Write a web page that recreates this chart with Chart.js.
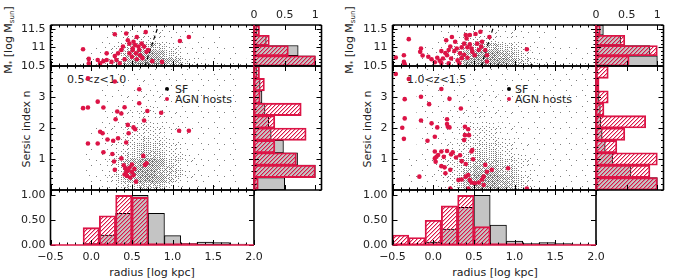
<!DOCTYPE html>
<html>
<head>
<meta charset="utf-8">
<script src="https://cdn.jsdelivr.net/npm/chart.js@4.4.1/dist/chart.umd.min.js"></script>
<style>
  body { margin: 0; width: 675px; height: 280px; position: relative; overflow: hidden; background: #fff; font-family: 'DejaVu Sans', sans-serif; color: #222; }
  canvas { position: absolute; left: 0; top: 0; }
  .t { position: absolute; font-size: 11px; line-height: 1; white-space: nowrap; transform: translateY(-50%); }
  .c { position: absolute; font-size: 11px; line-height: 1; white-space: nowrap; transform: translate(-50%, -50%); }
  .r { position: absolute; font-size: 11px; line-height: 1; white-space: nowrap; transform: translate(-50%, -50%) rotate(-90deg); }
  .r sub { font-size: 7px; vertical-align: -2px; }
  .dot { position: absolute; width: 4px; height: 4px; border-radius: 50%; transform: translate(-50%, -50%); }
</style>
</head>
<body>
<!-- left panel text -->
<div class="r" style="left:9px;top:40px">M<sub>*</sub> [log M<sub>sun</sub>]</div>
<div class="r" style="left:26px;top:129px">Sersic index n</div>
<div class="c" style="left:152px;top:272px">radius [log kpc]</div>
<div class="t" style="left:67px;top:79px">0.5&lt;z&lt;1.0</div>
<span class="dot" style="left:167px;top:89px;background:#000"></span>
<div class="t" style="left:175px;top:89px">SF</div>
<span class="dot" style="left:167px;top:99px;background:#dc1446"></span>
<div class="t" style="left:175px;top:99px">AGN hosts</div>
<!-- right panel text -->
<div class="r" style="left:350px;top:40px">M<sub>*</sub> [log M<sub>sun</sub>]</div>
<div class="r" style="left:367px;top:129px">Sersic index n</div>
<div class="c" style="left:495px;top:272px">radius [log kpc]</div>
<div class="t" style="left:407px;top:79px">1.0&lt;z&lt;1.5</div>
<span class="dot" style="left:509px;top:89px;background:#000"></span>
<div class="t" style="left:515px;top:89px">SF</div>
<span class="dot" style="left:509px;top:99px;background:#dc1446"></span>
<div class="t" style="left:515px;top:99px">AGN hosts</div>

<script>
// ── Tick values and labels ─────────────────────────────────────────────────
const radiusTicks = [-0.5, 0, 0.5, 1, 1.5, 2]
const radiusLabels = ['−0.5', '0.0', '0.5', '1.0', '1.5', '2.0']
const sersicTicks = [1, 2, 3]
const sersicLabels = ['1', '2', '3']
const massTicks = [10.5, 11, 11.5]
const massLabels = ['10.5', '11', '11.5']
const fracTicks = [0, 0.5, 1]
const fracLabels = ['0.00', '0.50', '1.00']
const sideLabels = ['0', '0.5', '1']

// ── Histogram bins (centres) ───────────────────────────────────────────────
const radiusBins = [-0.4, -0.2, 0, 0.2, 0.4, 0.6, 0.8, 1.0, 1.2, 1.4, 1.6, 1.8]
const massBins = [10.6375, 10.9125, 11.1875, 11.4625]
const sersicBins = [0.2, 0.6, 1.0, 1.4, 1.8, 2.2, 2.6, 3.0, 3.4, 3.8]

// 0.5 < z < 1.0
const sfRadiusL = [0, 0, 0.03, 0.2, 0.64, 1.0, 0.64, 0.19, 0.03, 0.06, 0.05, 0.02]
const agnRadiusL = [0, 0, 0.35, 0.59, 1.0, 0.96, 0.03, 0.03, 0.03, 0, 0, 0]
const sfMassL = [1.0, 0.72, 0.2, 0.05]
const agnMassL = [1.0, 0.56, 0.25, 0.09]
const sfSersicL = [0.5, 1.0, 0.71, 0.48, 0.28, 0.24, 0.18, 0.13, 0.1, 0.05]
const agnSersicL = [0.07, 1.0, 0.69, 0.34, 0.85, 0.34, 0.77, 0.1, 0.17, 0.09]

// 1.0 < z < 1.5
const sfRadiusR = [0, 0, 0.06, 0.32, 0.76, 1.0, 0.4, 0.08, 0.03, 0.05, 0.03, 0.02]
const agnRadiusR = [0.2, 0.15, 0.5, 0.79, 1.0, 0.37, 0.03, 0.03, 0.02, 0, 0, 0]
const sfMassR = [1.0, 0.88, 0.4, 0.12]
const agnMassR = [0.54, 1.0, 0.47, 0.07]
const sfSersicR = [1.0, 0.57, 0.27, 0.15, 0.1, 0.08, 0.07, 0.05, 0.03, 0.02]
const agnSersicR = [1.0, 0.88, 1.0, 0.34, 0.47, 0.81, 0.13, 0.2, 0.05, 0.2]

// ── AGN hosts [radius, value] ──────────────────────────────────────────────
const agnTopL = [[-0.1,10.95],[-0.03,10.69],[-0.03,10.57],[0.08,10.66],[0.11,10.57],[0.15,10.63],[0.19,10.66],[0.25,10.61],[0.29,11.35],[0.31,10.66],[0.33,10.84],[0.37,10.93],[0.39,11.02],[0.41,10.68],[0.43,11.37],[0.45,11.19],[0.47,10.84],[0.47,11.1],[0.5,10.75],[0.51,10.93],[0.51,10.97],[0.52,11.15],[0.54,11.06],[0.55,10.84],[0.56,11.28],[0.56,10.68],[0.58,11.02],[0.59,10.93],[0.6,10.79],[0.62,11.1],[0.63,10.71],[0.65,11.02],[0.67,11.41],[0.68,10.88],[0.7,10.93],[0.75,10.63],[0.87,10.61],[1.09,11.17],[1.2,11.28],[0.19,10.84],[0.29,10.77],[0.35,10.57]]
const agnMainL = [[-0.04,3.6],[0.29,3.5],[0.59,3.25],[0.08,2.85],[0.59,2.8],[-0.1,2.64],[-0.04,2.66],[0.15,2.66],[0.41,2.67],[0.32,2.53],[0.37,2.47],[0.69,2.55],[0.86,2.49],[0.3,2.28],[0.65,2.24],[0.45,2.1],[0.52,2.02],[0.54,1.96],[0.11,1.88],[0.14,1.83],[0.46,1.83],[1.08,1.91],[1.2,1.91],[0.2,1.63],[0.27,1.59],[0.33,1.67],[0.43,1.53],[-0.04,1.5],[0.08,1.5],[0.15,1.22],[0.26,1.16],[0.37,1.02],[0.64,1.1],[0.28,0.92],[0.29,0.65],[0.66,0.81],[0.68,0.86],[0.55,0.27],[0.4,0.8],[0.42,0.7],[0.45,0.62],[0.41,0.5],[0.44,0.45],[0.47,0.72],[0.5,0.58],[0.52,0.48],[0.48,0.4],[0.5,0.82],[0.43,0.58],[0.53,0.68]]
const agnTopR = [[-0.46,10.73],[-0.36,10.79],[-0.36,10.61],[-0.35,10.55],[-0.3,11.22],[-0.15,10.97],[-0.16,10.88],[-0.13,10.78],[-0.06,10.75],[-0.02,10.68],[0.02,10.6],[0.05,10.72],[0.08,10.64],[0.1,10.58],[0.12,10.7],[0.17,10.79],[0.19,10.93],[0.21,11.02],[0.16,11.19],[0.23,11.28],[0.27,11.15],[0.29,10.97],[0.33,10.84],[0.35,10.71],[0.38,11.1],[0.4,11.33],[0.41,11.24],[0.45,11.33],[0.47,10.97],[0.48,10.88],[0.51,10.79],[0.54,11.1],[0.58,11.42],[0.59,11.02],[0.6,11.15],[0.64,10.93],[0.66,10.79],[0.69,11.28],[0.19,10.57],[0.32,10.57],[0.66,10.62],[1.15,10.95],[0.1,10.9],[0.15,10.85],[0.22,10.7],[0.3,10.65],[0.38,10.8],[0.42,10.72],[0.42,11.0],[0.56,10.93],[0.52,11.36],[0.26,10.9],[0.45,11.08],[0.35,11.0]]
const agnMainR = [[-0.46,3.74],[-0.3,3.58],[0.1,3.26],[-0.15,3.01],[-0.35,2.93],[0.2,2.94],[-0.05,2.77],[0.34,2.63],[-0.35,2.31],[-0.15,2.24],[-0.02,2.15],[0.05,2.02],[0.17,2.28],[0.18,2.04],[0.2,2.02],[0.17,2.13],[-0.38,2.01],[0.39,2.04],[0.43,1.96],[0.39,1.77],[0.44,1.77],[0.02,1.72],[-0.36,1.65],[-0.07,1.59],[0.38,1.61],[0.48,1.29],[-0.17,0.43],[0.02,1.24],[0.04,1.07],[0.02,1.02],[0.06,1.13],[0.1,1.24],[0.13,1.07],[0.17,1.26],[0.22,1.15],[0.24,1.22],[0.28,1.05],[0.33,1.12],[0.35,0.93],[0.4,0.84],[0.47,1.24],[0.49,0.99],[0.03,0.91],[0.1,0.77],[0.14,0.73],[0.15,0.54],[0.21,0.65],[0.31,0.32],[0.35,0.34],[0.4,0.43],[0.43,0.48],[0.45,0.32],[0.47,0.24],[0.51,0.22],[0.56,0.24],[0.6,0.34],[0.62,0.43],[0.62,0.16],[0.66,0.59],[0.64,0.81],[0.72,0.65],[0.92,0.7],[0.21,0.05],[1.15,0.05],[0.43,0.05]]

// dashed selection line in the mass panels
const cutL = [[0.66, 10.5], [0.82, 11.55]]
const cutR = [[0.59, 10.5], [0.74, 11.55]]

// ── SF galaxies: density (0-9), rows top→bottom,
//    columns radius -0.5→2.0 in 0.1 steps ────────────────────────────────
const sfTopL = [ // mass 11.7 → 10.5, 0.2 per row
  '0000000011111111000000000',
  '0000000112222211110000000',
  '0000001123444332111110000',
  '0000011235667543211111100',
  '0000112357899865321111110',
  '0001122468999987532111110',
]
const sfMainL = [ // sersic 4 → 0, 0.25 per row
  '0000000111111111111111100',
  '0000000111111111111111100',
  '0000001111121111111111100',
  '0000001111222211111111100',
  '0000001112222221111111100',
  '0000001122233221111111100',
  '0000001122333322111111100',
  '0000001223343322111111100',
  '0000011223444332211111100',
  '0000011234455432211111100',
  '0000011234566543211111100',
  '0000112345677654321111100',
  '0000112357899865321111100',
  '0000112358999775321111100',
  '0000112357899875321111100',
  '0000011245677643211111000',
]
const sfTopR = [
  '0000000111111111100000000',
  '0000001112222221111000000',
  '0000011234444332111110000',
  '0000112346777654321111100',
  '0001123468999876421111110',
  '0011123469999987532111110',
]
const sfMainR = [
  '0001111111111111111111110',
  '0001111111111111111111110',
  '0001111111111111111111110',
  '0001111112222111111111110',
  '0001111122222211111111110',
  '0001111222222211111111110',
  '0001111222332221111111110',
  '0001112223333221111111110',
  '0001112233443322111111110',
  '0001112234444332111111110',
  '0001112334555432211111110',
  '0011122345666543211111110',
  '0011123456777654321111110',
  '0011123457888765321111110',
  '0011123468999876421111110',
  '0011123468999876421111110',
]

// ── Layout (px) ────────────────────────────────────────────────────────────
const W = 675, H = 280
const ROWS = { top: 25, mid: 66, main: 190, bottom: 245 }
const LEFT = { x0: 50.5, x1: 254, side: 321.5 }
const RIGHT = { x0: 392.5, x1: 596, side: 663.5 }

const RED = '#dc1446'
const GREY_BAR = '#c4c4c4'
const DOT = '#7e7e7e'
const INK = '#222'
const FONT = { family: "'DejaVu Sans', sans-serif", size: 11, lineHeight: 1.2 }

const steps = (a, b, s) => Array.from({ length: Math.round((b - a) / s) + 1 }, (_, i) => +(a + i * s).toFixed(3))
const radiusMinor = steps(-0.5, 2, 0.1)
const sersicMinor = steps(0, 4, 0.2)
const massMinor = steps(10.5, 11.6, 0.1)

// stipple fills for the SF cloud: 16x16 tile of shifted 8x8 ordered-dither quadrants
const BAYER = [[0,32,8,40,2,34,10,42],[48,16,56,24,50,18,58,26],[12,44,4,36,14,46,6,38],[60,28,52,20,62,30,54,22],[3,35,11,43,1,33,9,41],[51,19,59,27,49,17,57,25],[15,47,7,39,13,45,5,37],[63,31,55,23,61,29,53,21]]
const QUAD_SHIFT = [[0, 0], [3, 5], [6, 2], [1, 7]]
const STIPPLE = [0, 1, 2, 4, 7, 11, 16, 22, 29, 37]
const stipple = STIPPLE.map(k => {
  const c = document.createElement('canvas')
  c.width = c.height = 16
  const g = c.getContext('2d')
  g.fillStyle = DOT
  for (let y = 0; y < 16; y++) for (let x = 0; x < 16; x++) {
    const [sy, sx] = QUAD_SHIFT[(y >> 3) * 2 + (x >> 3)]
    if (BAYER[(y + sy) % 8][(x + sx) % 8] < k) g.fillRect(x, y, 1, 1)
  }
  return g.createPattern(c, 'repeat')
})

const hatch = (() => {
  const c = document.createElement('canvas')
  c.width = c.height = 4
  const g = c.getContext('2d')
  g.fillStyle = RED
  for (let i = 0; i < 4; i++) g.fillRect(i, 3 - i, 1, 1)
  g.globalAlpha = 0.35
  for (let i = 0; i < 4; i++) g.fillRect(i, (4 - i) % 4, 1, 1)
  return g.createPattern(c, 'repeat')
})()

// ── Helpers ────────────────────────────────────────────────────────────────
function scale(position, min, max, ticks, labels, padding) {
  return {
    type: 'linear', position, min, max, offset: false,
    grid: { display: false, drawTicks: false }, border: { display: false },
    ticks: {
      display: !!labels, autoSkip: false, maxRotation: 0, minRotation: 0,
      padding: padding || 0, color: INK, font: FONT,
      callback: (v, i) => labels ? labels[i] : '',
    },
    afterBuildTicks: s => { s.ticks = ticks.map(value => ({ value })) },
  }
}

// box + inward ticks on all four sides
function frame(cfg) {
  return {
    id: 'frame',
    afterDatasetsDraw(chart) {
      const { ctx, chartArea: a, scales } = chart
      ctx.save()
      ctx.strokeStyle = '#000'
      ctx.lineWidth = 1
      cfg.ticks.forEach(([axis, values, len]) => {
        values.forEach(v => {
          const p = Math.round(scales[axis].getPixelForValue(v)) + 0.5
          ctx.beginPath()
          if (axis === 'x') {
            ctx.moveTo(p, a.top); ctx.lineTo(p, a.top + len)
            ctx.moveTo(p, a.bottom); ctx.lineTo(p, a.bottom - len)
          } else {
            ctx.moveTo(a.left, p); ctx.lineTo(a.left + len, p)
            ctx.moveTo(a.right, p); ctx.lineTo(a.right - len, p)
          }
          ctx.stroke()
        })
      })
      ctx.lineWidth = 1.6
      const edges = {
        top: [a.left, a.top, a.right, a.top],
        right: [a.right, a.top, a.right, a.bottom],
        bottom: [a.left, a.bottom, a.right, a.bottom],
        left: [a.left, a.top, a.left, a.bottom],
      }
      Object.entries(edges).forEach(([k, e]) => {
        ctx.strokeStyle = (cfg.edge && cfg.edge[k]) || '#000'
        ctx.beginPath(); ctx.moveTo(e[0], e[1]); ctx.lineTo(e[2], e[3]); ctx.stroke()
      })
      ctx.restore()
    },
  }
}

// rect = plot area [left, top, right, bottom]; an axis with labels takes the
// whole margin on its side so its labels are not clipped
function makeChart(rect, type, datasets, scales, frameCfg, extra) {
  const c = document.createElement('canvas')
  c.width = W; c.height = H
  document.body.appendChild(c)
  const margin = { left: rect[0], top: rect[1], right: W - rect[2], bottom: H - rect[3] }
  const padding = { ...margin }
  Object.values(scales).forEach(sc => {
    const m = sc.ticks.display ? margin[sc.position] : 0
    if (sc.ticks.display) padding[sc.position] = 0
    sc.afterFit = s => { if (s.isHorizontal()) s.height = m; else s.width = m }
  })
  return new Chart(c, {
    type,
    data: { datasets },
    options: {
      responsive: false, animation: false, events: [],
      layout: { padding },
      scales,
      plugins: { legend: { display: false }, tooltip: { enabled: false } },
      ...(extra || {}),
    },
    plugins: [frame(frameCfg)],
  })
}

function cellSet(rows, x0, dx, yTop, dy) {
  const data = []
  rows.forEach((row, r) => [...row].forEach((ch, c) => {
    if (+ch) data.push({ x: x0 + dx * (c + 0.5), y: yTop - dy * (r + 0.5), d: +ch })
  }))
  return {
    data, order: 3, clip: 0, pointStyle: 'rect', borderWidth: 0,
    pointRadius: c => {
      const sx = c.chart.scales.x, sy = c.chart.scales.y
      const w = Math.abs(sx.getPixelForValue(dx) - sx.getPixelForValue(0))
      const h = Math.abs(sy.getPixelForValue(dy) - sy.getPixelForValue(0))
      return (Math.max(w, h) + 0.5) / Math.SQRT2
    },
    backgroundColor: c => stipple[c.raw ? c.raw.d : 0],
  }
}

const pointSet = pts => ({ data: pts, order: 0, pointRadius: 2.3, backgroundColor: RED, borderWidth: 0 })
const lineSet = pts => ({ type: 'line', data: pts, order: 1, borderColor: '#000', borderWidth: 1.2, borderDash: [4, 3], pointRadius: 0, fill: false })

function histSets(bins, sf, agn, horizontal) {
  const pts = vals => bins.map((b, i) => horizontal ? { x: vals[i], y: b } : { x: b, y: vals[i] })
  const common = { grouped: false, borderSkipped: false, barPercentage: 1, categoryPercentage: 1 }
  return [
    { ...common, data: pts(agn), order: 0, backgroundColor: hatch, borderColor: RED, borderWidth: 1.2 },
    { ...common, data: pts(sf), order: 1, backgroundColor: GREY_BAR, borderColor: '#000', borderWidth: 1 },
  ]
}

// ── One redshift panel ─────────────────────────────────────────────────────
function buildPanel(g, d) {
  const radiusX = labels => scale('bottom', -0.5, 2, radiusTicks, labels ? radiusLabels : null, 6)
  const xTicks = [['x', radiusTicks, 5], ['x', radiusMinor, 2.5]]

  makeChart([g.x0, ROWS.top, g.x1, ROWS.mid], 'scatter',
    [pointSet(d.agnTop), lineSet(d.cut), cellSet(d.sfTop, -0.5, 0.1, 11.7, 0.2)],
    { x: radiusX(false), y: scale('left', 10.5, 11.6, massTicks, massLabels, 5) },
    { ticks: [...xTicks, ['y', massTicks, 5], ['y', massMinor, 2.5]] })

  makeChart([g.x0, ROWS.mid, g.x1, ROWS.main], 'scatter',
    [pointSet(d.agnMain), cellSet(d.sfMain, -0.5, 0.1, 4, 0.25)],
    { x: radiusX(false), y: scale('left', 0, 4, sersicTicks, sersicLabels, 5) },
    { ticks: [...xTicks, ['y', sersicTicks, 5], ['y', sersicMinor, 2.5]] })

  makeChart([g.x0, ROWS.main, g.x1, ROWS.bottom], 'bar',
    histSets(radiusBins, d.sfRadius, d.agnRadius, false),
    { x: radiusX(true), y: scale('left', 0, 1.11, fracTicks, fracLabels, 5) },
    { ticks: [...xTicks, ['y', fracTicks, 5]], edge: { bottom: RED } })

  makeChart([g.x1, ROWS.top, g.side, ROWS.mid], 'bar',
    histSets(massBins, d.sfMass, d.agnMass, true),
    { x: scale('top', 0, 1.1, fracTicks, sideLabels, 3), y: scale('left', 10.5, 11.6, massTicks) },
    { ticks: [['x', fracTicks, 5], ['y', massTicks, 5], ['y', massMinor, 2.5]], edge: { left: RED } },
    { indexAxis: 'y' })

  makeChart([g.x1, ROWS.mid, g.side, ROWS.main], 'bar',
    histSets(sersicBins, d.sfSersic, d.agnSersic, true),
    { x: scale('bottom', 0, 1.1, fracTicks), y: scale('left', 0, 4, sersicTicks) },
    { ticks: [['x', fracTicks, 5], ['y', sersicTicks, 5], ['y', sersicMinor, 2.5]], edge: { left: RED } },
    { indexAxis: 'y' })
}

buildPanel(LEFT, {
  agnTop: agnTopL, agnMain: agnMainL, cut: cutL, sfTop: sfTopL, sfMain: sfMainL,
  sfRadius: sfRadiusL, agnRadius: agnRadiusL, sfMass: sfMassL, agnMass: agnMassL,
  sfSersic: sfSersicL, agnSersic: agnSersicL,
})
buildPanel(RIGHT, {
  agnTop: agnTopR, agnMain: agnMainR, cut: cutR, sfTop: sfTopR, sfMain: sfMainR,
  sfRadius: sfRadiusR, agnRadius: agnRadiusR, sfMass: sfMassR, agnMass: agnMassR,
  sfSersic: sfSersicR, agnSersic: agnSersicR,
})
</script>
</body>
</html>
